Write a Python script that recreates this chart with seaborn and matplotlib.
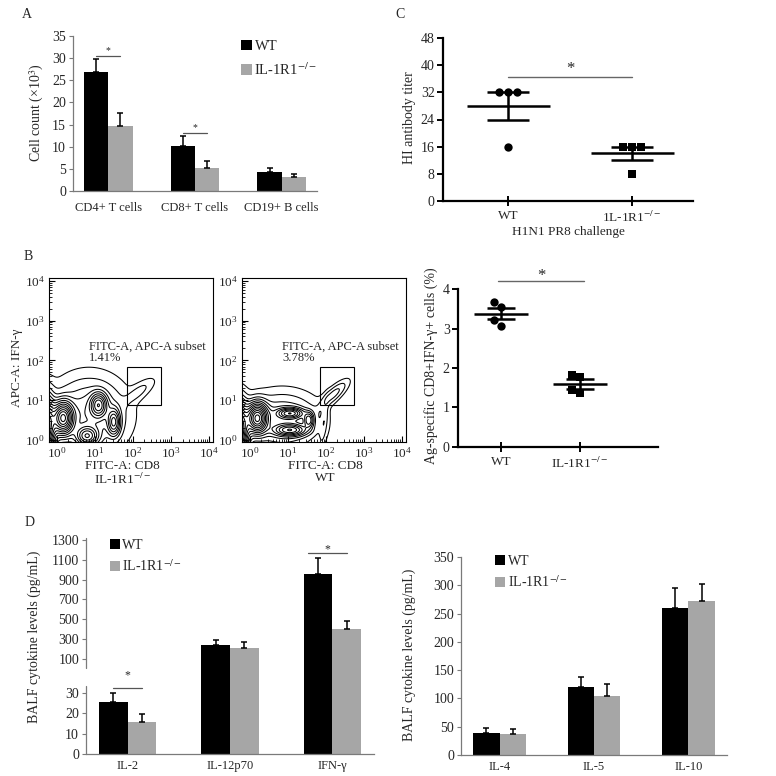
import numpy as np
import pandas as pd
import matplotlib
matplotlib.use("Agg")
import matplotlib.pyplot as plt
import seaborn as sns
from matplotlib.ticker import LogLocator, NullFormatter, LogFormatterSciNotation

sns.set_theme(style="ticks")
plt.rcParams["font.family"] = ["Liberation Serif", "DejaVu Serif"]
plt.rcParams["mathtext.fontset"] = "stix"
plt.rcParams["font.size"] = 9.5

WT = "WT"
KO = "IL-1R1$^{-/-}$"
KO_TYPO = "1L-1R1$^{-/-}$"
BLACK = "#000000"
GREY = "#a6a6a6"
AXIS_GREY = "#7a7a7a"

# ---- panel A: lung cell counts (x10^3), mean and SEM
cell_types = ["CD4+ T cells", "CD8+ T cells", "CD19+ B cells"]
cell_wt = [26.9, 10.2, 4.2]
cell_wt_err = [3.0, 2.2, 0.9]
cell_ko = [14.7, 5.1, 3.1]
cell_ko_err = [3.0, 1.7, 0.7]

# ---- panel C: HI antibody titer, single mice
hi_wt = [32, 32, 32, 16]
hi_ko = [16, 16, 16, 8]

# ---- panel B (right): Ag-specific CD8+IFN-g+ cells (%)
ifn_wt = [3.68, 3.55, 3.21, 3.07]
ifn_ko = [1.82, 1.76, 1.36, 1.44]

# ---- panel B (flow): density blobs
# columns: log10 FITC-A, log10 APC-A, spread x, spread y, correlation, peak weight
ko_blob_x = [-0.30, 0.17, 1.10, 0.80, 1.50, 0.85, 2.16]
ko_blob_y = [0.30, 0.55, 0.88, 0.10, 0.45, 0.65, 1.22]
ko_blob_sx = [0.15, 0.16, 0.13, 0.17, 0.10, 0.55, 0.25]
ko_blob_sy = [0.45, 0.24, 0.18, 0.14, 0.20, 0.52, 0.20]
ko_blob_r = [0.0, 0.0, 0.0, 0.0, 0.0, 0.0, 0.75]
ko_blob_w = [1.0, 0.9, 0.45, 0.40, 0.35, 0.16, 0.045]

wt_blob_x = [-0.30, 0.20, 1.06, 1.06, 1.55, 0.85, 2.20, 1.95]
wt_blob_y = [0.25, 0.55, 0.67, 0.25, 0.50, 0.45, 1.15, 0.45]
wt_blob_sx = [0.15, 0.16, 0.20, 0.25, 0.08, 0.55, 0.22, 0.07]
wt_blob_sy = [0.40, 0.22, 0.08, 0.09, 0.12, 0.40, 0.20, 0.35]
wt_blob_r = [0.0, 0.0, 0.0, 0.0, 0.0, 0.0, 0.8, 0.6]
wt_blob_w = [1.0, 0.9, 0.45, 0.45, 0.30, 0.16, 0.09, 0.05]

ko_gate_pct = "1.41%"
wt_gate_pct = "3.78%"
gate_x = [72, 560]
gate_y = [7.4, 69]

# ---- panel D: BALF cytokines (pg/mL), mean and SEM
cyto_th1 = ["IL-2", "IL-12p70", "IFN-γ"]
th1_wt = [25.4, 238, 954]
th1_wt_err = [4.4, 53, 167]
th1_ko = [15.7, 208, 405]
th1_ko_err = [4.0, 66, 81]

cyto_th2 = ["IL-4", "IL-5", "IL-10"]
th2_wt = [39.5, 119.6, 260.4]
th2_wt_err = [8.8, 17.7, 35.4]
th2_ko = [36.5, 104.8, 272.2]
th2_ko_err = [8.8, 20.6, 30.6]

W = H = 776
fig = plt.figure(figsize=(7.76, 7.76), dpi=100)


def px_box(left, top, right, bottom):
    return [left / W, 1 - bottom / H, (right - left) / W, (bottom - top) / H]


def fig_text(x, y, s, **kw):
    fig.text(x / W, 1 - y / H, s, ha=kw.pop("ha", "center"), va=kw.pop("va", "center"), **kw)


def style_excel(ax, xpad):
    sns.despine(ax=ax)
    for side in ["left", "bottom"]:
        ax.spines[side].set_color(AXIS_GREY)
        ax.spines[side].set_linewidth(0.9)
    ax.tick_params(axis="y", direction="out", length=3, width=0.8, color=AXIS_GREY, pad=2, labelsize=10)
    ax.tick_params(axis="x", length=0, pad=xpad, labelsize=9)
    ax.set_xlabel("")
    ax.set_ylabel("")


def bar_panel(ax, cats, wt, wt_err, ko, ko_err):
    df = pd.DataFrame({
        "cat": cats * 2,
        "val": wt + ko,
        "err": wt_err + ko_err,
        "grp": [WT] * len(cats) + [KO] * len(cats),
    })
    sns.barplot(data=df, x="cat", y="val", hue="grp", hue_order=[WT, KO],
                palette=[BLACK, GREY], width=0.56, errorbar=None, saturation=1,
                linewidth=0, ax=ax)
    centers = {}
    for grp, cont in zip([WT, KO], ax.containers):
        sub = df[df["grp"] == grp]
        xs = [p.get_x() + p.get_width() / 2 for p in cont.patches]
        ax.errorbar(xs, sub["val"], yerr=[np.zeros(len(sub)), sub["err"]], fmt="none",
                    ecolor=BLACK, elinewidth=1.1, capsize=2.5, capthick=1.1, zorder=1)
        centers[grp] = xs
    return centers


def bar_legend(ax, anchor, spacing, size):
    handles, labels = ax.get_legend_handles_labels()
    ax.legend(handles, labels, loc="upper left", bbox_to_anchor=anchor, frameon=False,
              handlelength=0.7, handleheight=0.7, handletextpad=0.2, borderpad=0,
              borderaxespad=0, labelspacing=spacing, fontsize=size)


def sig(ax, x0, x1, y, star_y, lw=0.9, color="#555555", size=8):
    ax.plot([x0, x1], [y, y], color=color, lw=lw, clip_on=False)
    ax.text((x0 + x1) / 2, star_y, "*", ha="center", va="center", fontsize=size, clip_on=False)


# ======================= Panel A =======================
axA = fig.add_axes(px_box(73, 36, 317, 191))
cA = bar_panel(axA, cell_types, cell_wt, cell_wt_err, cell_ko, cell_ko_err)
axA.set_ylim(0, 35)
axA.set_yticks(range(0, 36, 5))
style_excel(axA, 8)
bar_legend(axA, (0.69, 0.975), 0.55, 10.5)
sig(axA, cA[WT][0], cA[KO][0], 30.5, 31.6, size=7)
sig(axA, cA[WT][1], cA[KO][1], 13.2, 14.3, size=7)
fig_text(37, 113, "Cell count (×10$^3$)", rotation=90, fontsize=10)
fig_text(27, 15, "A", fontsize=10)


# ======================= dot plots (C and B right) =======================
def dot_panel(ax, wt_vals, ko_vals, ko_marker, mean_half, cap_pt, dot_size):
    df = pd.DataFrame({"grp": [WT] * len(wt_vals) + [KO] * len(ko_vals),
                       "val": wt_vals + ko_vals})
    sns.swarmplot(data=df[df["grp"] == WT], x="grp", y="val", order=[WT, KO],
                  color=BLACK, marker="o", size=dot_size, linewidth=0, ax=ax, zorder=3)
    sns.swarmplot(data=df[df["grp"] == KO], x="grp", y="val", order=[WT, KO],
                  color=BLACK, marker=ko_marker, size=dot_size, linewidth=0, ax=ax, zorder=3)
    stats = df.groupby("grp", sort=False)["val"].agg(["mean", "sem"])
    for i, grp in enumerate([WT, KO]):
        m, s = stats.loc[grp, "mean"], stats.loc[grp, "sem"]
        ax.hlines(m, i - mean_half, i + mean_half, color=BLACK, lw=1.8, zorder=2)
        ax.errorbar(i, m, yerr=s, fmt="none", ecolor=BLACK, elinewidth=1.8,
                    capsize=cap_pt, capthick=1.8, zorder=2)
    sns.despine(ax=ax)
    for side in ["left", "bottom"]:
        ax.spines[side].set_linewidth(1.6)
        ax.spines[side].set_color(BLACK)
    ax.tick_params(axis="y", direction="out", length=4, width=1.4, color=BLACK, pad=2, labelsize=10)
    ax.tick_params(axis="x", direction="inout", length=7, width=1.4, color=BLACK, pad=3, labelsize=9.5)
    ax.set_xlabel("")
    ax.set_ylabel("")


# ======================= Panel C =======================
axC = fig.add_axes(px_box(443, 38, 693, 201))
dot_panel(axC, hi_wt, hi_ko, "s", 0.335, 15, 6)
axC.set_ylim(0, 48)
axC.set_yticks(range(0, 49, 8))
axC.set_xlim(-0.525, 1.49)
axC.set_xticks([0, 1], [WT, KO_TYPO])
sig(axC, 0, 1, 36.6, 38.8, lw=1.0, color="#666666", size=12)
fig_text(410, 118, "HI antibody titer", rotation=90, fontsize=10)
fig_text(568, 232, "H1N1 PR8 challenge", fontsize=9.5)
fig_text(400, 15, "C", fontsize=10)

# ======================= Panel B right =======================
axB = fig.add_axes(px_box(458, 289, 658, 447))
dot_panel(axB, ifn_wt, ifn_ko, "s", 0.34, 10, 6)
axB.set_ylim(0, 4)
axB.set_yticks(range(0, 5))
axB.set_xlim(-0.544, 1.987)
axB.set_xticks([0, 1], [WT, KO])
sig(axB, -0.04, 1.05, 4.19, 4.33, lw=1.0, color="#666666", size=12)
fig_text(431, 366, "Ag-specific CD8+IFN-γ+ cells (%)", rotation=90, fontsize=10)


# ======================= Panel B flow plots =======================
gx, gy = np.meshgrid(np.linspace(-0.6, 4.2, 400), np.linspace(-0.4, 4.2, 400))


def flow_density(bx, by, bsx, bsy, br, bw):
    z = np.zeros_like(gx)
    for x0, y0, sx, sy, r, w in zip(bx, by, bsx, bsy, br, bw):
        dx = (gx - x0) / sx
        dy = (gy - y0) / sy
        z += w * np.exp(-0.5 * (dx * dx - 2 * r * dx * dy + dy * dy) / (1 - r * r))
    return z / z.max()


flow_levels = [0.012, 0.035, 0.07, 0.11, 0.16, 0.22, 0.29, 0.37, 0.46, 0.56, 0.67, 0.78, 0.9]


def flow_panel(ax, z, pct, xlabel, xlabel_x):
    ax.contour(10 ** gx, 10 ** gy, z, levels=flow_levels, colors=BLACK, linewidths=0.75)
    ax.set_xscale("log")
    ax.set_yscale("log")
    ax.set_xlim(10 ** -0.2, 10 ** 4.1)
    ax.set_ylim(10 ** -0.05, 10 ** 4.07)
    ax.add_patch(plt.Rectangle((gate_x[0], gate_y[0]), gate_x[1] - gate_x[0], gate_y[1] - gate_y[0],
                               fill=False, edgecolor=BLACK, lw=0.8))
    ax.text(10 ** 0.85, 10 ** 2.2, "FITC-A, APC-A subset\n" + pct, ha="left", va="center",
            fontsize=9, linespacing=0.95)
    for axis in [ax.xaxis, ax.yaxis]:
        axis.set_major_locator(LogLocator(base=10, numticks=10))
        axis.set_minor_locator(LogLocator(base=10, subs=np.arange(2, 10), numticks=10))
        axis.set_minor_formatter(NullFormatter())
        axis.set_major_formatter(LogFormatterSciNotation())
    ax.tick_params(which="major", direction="in", length=4, width=0.8, color=BLACK, labelsize=9.5, pad=3)
    ax.tick_params(which="minor", direction="in", length=2, width=0.6, color=BLACK)
    for sp in ax.spines.values():
        sp.set_color(BLACK)
        sp.set_linewidth(0.8)
    ax.set_xlabel(xlabel, fontsize=9.5, linespacing=1.0)
    ax.xaxis.set_label_coords(xlabel_x, -0.11)


axF1 = fig.add_axes(px_box(49, 278, 213, 442))
flow_panel(axF1, flow_density(ko_blob_x, ko_blob_y, ko_blob_sx, ko_blob_sy, ko_blob_r, ko_blob_w),
           ko_gate_pct, "FITC-A: CD8\n" + KO, 0.45)
fig_text(17, 368, "APC-A: IFN-γ", rotation=90, fontsize=9.5)

axF2 = fig.add_axes(px_box(242, 278, 406, 442))
flow_panel(axF2, flow_density(wt_blob_x, wt_blob_y, wt_blob_sx, wt_blob_sy, wt_blob_r, wt_blob_w),
           wt_gate_pct, "FITC-A: CD8\n" + WT, 0.51)
fig_text(28, 257, "B", fontsize=10)


# ======================= Panel D left (broken axis) =======================
brk_v = [-1000, 33.4, 35.0, 100000]
brk_y = [-1000 * 2.033, 33.4 * 2.033, 95 + (35 - 100) * 0.0992, 95 + (100000 - 100) * 0.0992]


def fwd(v):
    return np.interp(v, brk_v, brk_y)


def inv(y):
    return np.interp(y, brk_y, brk_v)


axD1 = fig.add_axes(px_box(86, 538, 374, 754))
cD = bar_panel(axD1, cyto_th1, th1_wt, th1_wt_err, th1_ko, th1_ko_err)
axD1.set_yscale("function", functions=(fwd, inv))
axD1.set_ylim(0, 1320)
axD1.set_yticks([0, 10, 20, 30, 100, 300, 500, 700, 900, 1100, 1300])
style_excel(axD1, 4)
axD1.spines["left"].set_visible(False)
ytr = axD1.get_yaxis_transform()
axD1.plot([0, 0], [0, 33.4], transform=ytr, color=AXIS_GREY, lw=0.9, clip_on=False)
axD1.plot([0, 0], [34.8, 1320], transform=ytr, color=AXIS_GREY, lw=0.9, clip_on=False)
bar_legend(axD1, (0.083, 0.995), 0.45, 10)
sig(axD1, cD[WT][0], cD[KO][0], 32.3, 34.2, size=8.5)
sig(axD1, cD[WT][2] - 0.1, cD[KO][2], 1165, 1205, size=8.5)
fig_text(34, 637, "BALF cytokine levels (pg/mL)", rotation=90, fontsize=10)
fig_text(30, 522, "D", fontsize=10)

# ======================= Panel D right =======================
axD2 = fig.add_axes(px_box(461, 557, 727, 755))
bar_panel(axD2, cyto_th2, th2_wt, th2_wt_err, th2_ko, th2_ko_err)
axD2.set_ylim(0, 350)
axD2.set_yticks(range(0, 351, 50))
style_excel(axD2, 4)
bar_legend(axD2, (0.128, 1.01), 0.45, 10)
fig_text(409, 655, "BALF cytokine levels (pg/mL)", rotation=90, fontsize=10)

fig.savefig("out.png", dpi=100)
